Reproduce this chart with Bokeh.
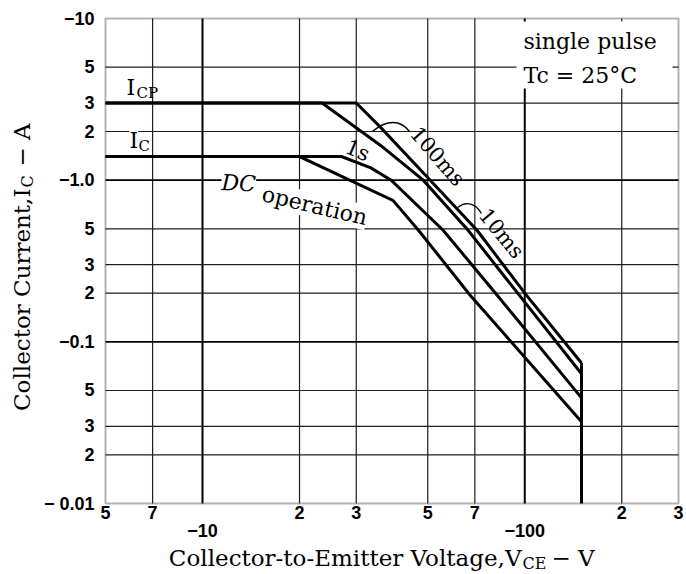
import math
from bokeh.plotting import figure
from bokeh.models import FixedTicker, Label, BoxAnnotation, LogAxis
from bokeh.embed import file_html
from bokeh.resources import INLINE

# ---------------- data ----------------
vce_10ms = [5, 30, 35.7, 50.9, 71.1, 101, 150]
ic_10ms = [3, 3, 2.12, 1.0, 0.49, 0.195, 0.074]

vce_100ms = [5, 23.5, 35.7, 48.4, 66.7, 96, 150]
ic_100ms = [3, 3, 1.64, 1.0, 0.49, 0.195, 0.0635]

vce_1s = [5, 27, 33.3, 38.5, 55.8, 82, 150]
ic_1s = [1.4, 1.4, 1.19, 1.0, 0.49, 0.195, 0.045]

vce_dc = [5, 20, 39, 46.8, 67.6, 150]
ic_dc = [1.4, 1.4, 0.75, 0.49, 0.195, 0.032]

vce_max = 150

X_MIN, X_MAX = 5, 300
Y_MIN, Y_MAX = 0.01, 10

x_label_ticks = [5, 7, 20, 30, 50, 70, 200, 300]
x_label_text = ["5", "7", "2", "3", "5", "7", "2", "3"]
x_decade_ticks = [10, 100]
x_decade_text = ["\u221210", "\u2212100"]
x_grid_minor = [7, 20, 30, 50, 70, 200]

y_ticks = [0.01, 0.02, 0.03, 0.05, 0.1, 0.2, 0.3, 0.5, 1, 2, 3, 5, 10]
y_tick_text = ["\u2212 0.01", "2", "3", "5", "\u22120.1", "2", "3", "5",
               "\u22121.0", "2", "3", "5", "\u221210"]
y_grid_minor = [0.02, 0.03, 0.05, 0.2, 0.3, 0.5, 2, 3, 5]
y_grid_decade = [0.1, 1]

# ---------------- layout (pixels of the chart box on the page) ----------------
W, H = 686, 574
BOX_L, BOX_R, BOX_T, BOX_B = 105, 678, 18, 503
bx = (BOX_R - BOX_L) / math.log10(X_MAX / X_MIN)
by = (BOX_B - BOX_T) / math.log10(Y_MAX / Y_MIN)


def dx(px):
    return X_MIN * 10 ** ((px - BOX_L) / bx)


def dy(py):
    return Y_MIN * 10 ** ((BOX_B - py) / by)


SERIF = "DejaVu Serif"
SANS = "Liberation Sans"

p = figure(width=W, height=H, x_axis_type="log", y_axis_type="log",
           x_range=(dx(0), dx(W)), y_range=(dy(H), dy(0)),
           output_backend="svg", toolbar_location=None,
           min_border=0, min_border_left=0, min_border_right=0,
           min_border_top=0, min_border_bottom=0)
p.outline_line_color = None
p.background_fill_color = "white"
p.border_fill_color = "white"
p.xgrid.visible = False
p.ygrid.visible = False


def style_axis(ax, standoff):
    ax.axis_line_color = None
    ax.major_tick_line_color = None
    ax.minor_tick_line_color = None
    ax.major_label_standoff = standoff
    ax.major_label_text_font = SANS
    ax.major_label_text_font_style = "bold"
    ax.major_label_text_font_size = "18px"
    ax.major_label_text_color = "black"


# ---- x axis (two rows of labels) ----
xa = p.xaxis[0]
xa.ticker = FixedTicker(ticks=x_label_ticks)
xa.major_label_overrides = dict(zip(x_label_ticks, x_label_text))
xa.fixed_location = Y_MIN
xa.bounds = (X_MIN, X_MAX)
style_axis(xa, -4)

xa2 = LogAxis(ticker=FixedTicker(ticks=x_decade_ticks),
              major_label_overrides=dict(zip(x_decade_ticks, x_decade_text)),
              fixed_location=Y_MIN, bounds=(X_MIN, X_MAX))
style_axis(xa2, 14)
p.add_layout(xa2, "below")

# ---- y axis ----
ya = p.yaxis[0]
ya.ticker = FixedTicker(ticks=y_ticks)
ya.major_label_overrides = dict(zip(y_ticks, y_tick_text))
ya.fixed_location = X_MIN
ya.bounds = (Y_MIN, Y_MAX)
style_axis(ya, 5)

# ---- grid lines (limited to the chart box) ----
p.segment(x_grid_minor, [Y_MIN] * len(x_grid_minor), x_grid_minor, [Y_MAX] * len(x_grid_minor),
          line_color="#1e1e1e", line_width=1.2)
p.segment(x_decade_ticks, [Y_MIN] * 2, x_decade_ticks, [Y_MAX] * 2,
          line_color="black", line_width=2)
p.segment([X_MIN] * len(y_grid_minor), y_grid_minor, [X_MAX] * len(y_grid_minor), y_grid_minor,
          line_color="#1e1e1e", line_width=1.2)
p.segment([X_MIN] * 2, y_grid_decade, [X_MAX] * 2, y_grid_decade,
          line_color="black", line_width=1.6)

# ---- white area behind the condition text ----
p.quad(left=[dx(516)], right=[dx(672)], bottom=[dy(88)], top=[dy(21)],
       fill_color="white", line_color=None)

# ---- curves ----
for xs, ys in ((vce_10ms, ic_10ms), (vce_100ms, ic_100ms),
               (vce_1s, ic_1s), (vce_dc, ic_dc)):
    p.line(xs, ys, line_color="black", line_width=3, line_join="miter")
p.line([vce_max, vce_max], [Y_MIN, max(ic_10ms[-1], ic_100ms[-1])],
       line_color="black", line_width=3)

# ---- leader curves for the pulse-width labels ----
p.bezier(x0=[dx(409), dx(481)], y0=[dy(131), dy(213)],
         x1=[dx(372), dx(457)], y1=[dy(131), dy(207)],
         cx0=[dx(400), dx(475)], cy0=[dy(119), dy(203)],
         cx1=[dx(386), dx(466)], cy1=[dy(119), dy(200)],
         line_color="black", line_width=1.3)

# ---- chart border ----
p.add_layout(BoxAnnotation(left=X_MIN, right=X_MAX, bottom=Y_MIN, top=Y_MAX,
                           fill_alpha=0, line_color="black", line_width=2))


def lab(px, py, text, size="22px", align="left", angle=0.0, style="normal",
        bg=None, font=SERIF):
    kw = dict(x=dx(px), y=dy(py), text=text, text_font=font, text_font_size=size,
              text_align=align, text_baseline="middle", angle=angle,
              text_font_style=style, text_color="black")
    if bg:
        kw["background_fill_color"] = bg
    p.add_layout(Label(**kw))


lab(523, 41, "single pulse")
lab(523, 75, "Tc = 25\u00b0C")

lab(126, 87, "I")
lab(136, 92, "CP", size="15px")

lab(129, 140, "I", bg="white")
lab(138, 145, "C", size="15px", bg="white")

lab(221, 182, "DC", style="italic", angle=-0.04, bg="white")
lab(262, 193, "operation", angle=-0.23, bg="white")

lab(357, 150, "1s", size="21px", align="center", angle=-0.40)
lab(437, 156, "100ms", size="21px", align="center", angle=-0.85)
lab(501, 233, "10ms", size="21px", align="center", angle=-0.88)

# axis titles
lab(521, 557, "Collector-to-Emitter Voltage,V", size="23px", align="right")
lab(522, 563, "CE", size="16px")
lab(551, 557, "\u2212 V", size="23px")

lab(21, 188, "Collector Current,I", size="23px", align="right", angle=math.pi / 2)
lab(27, 187, "C", size="16px", angle=math.pi / 2)
lab(21, 166, "\u2212 A", size="23px", angle=math.pi / 2)

open("out.html", "w").write(file_html(p, INLINE))
